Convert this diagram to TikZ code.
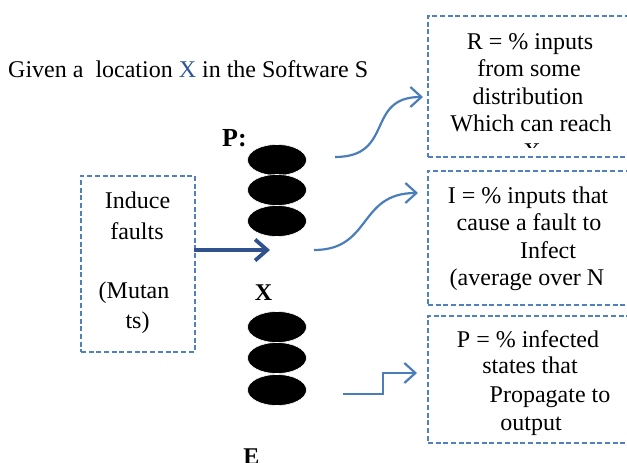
\documentclass[tikz,border=0pt]{standalone}
\usepackage{fontspec}
\setmainfont{Liberation Serif}
\usetikzlibrary{arrows.meta,shapes.geometric}
\definecolor{boxblue}{RGB}{79,129,189}
\definecolor{arrowblue}{RGB}{74,126,187}
\definecolor{deepblue}{RGB}{47,82,143}
\definecolor{titleblue}{RGB}{46,84,150}
\begin{document}
\begin{tikzpicture}[x=1pt,y=-1pt,
  dashbox/.style={draw=boxblue, line width=1.6pt, dash pattern=on 5pt off 2.7pt, inner sep=0pt, anchor=north west},
  txt/.style={anchor=base, inner sep=0pt, font=\fontsize{24}{27.6}\selectfont},
  lbl/.style={anchor=base, inner sep=0pt, font=\fontsize{24}{27.6}\selectfont\bfseries},
  blob/.style={ellipse, fill=black, draw=white, line width=0.6pt, minimum width=59pt, minimum height=31pt, inner sep=0pt},
  flow/.style={draw=arrowblue, line width=2.2pt, -{Straight Barb[length=11pt,width=20pt]}},
  push/.style={draw=deepblue, line width=3.8pt, -{Straight Barb[length=12pt,width=21pt]}}]
\useasboundingbox (0,0) rectangle (627,463);

% heading
\node[txt, anchor=base west] (title) at (8,77) {Given a \ location \textcolor{titleblue}{X} in the Software S};

% dashed boxes
\node[dashbox, minimum width=223pt, minimum height=141pt] (rbox) at (427,15) {};
\node[dashbox, minimum width=223pt, minimum height=134pt] (ibox) at (427,170) {};
\node[dashbox, minimum width=223pt, minimum height=127pt] (pbox) at (427,315) {};
\node[dashbox, minimum width=114pt, minimum height=176pt] (fbox) at (80,175) {};

% reachability box text (last line runs past the text frame)
\node[txt] (r1) at (530,49) {R = \% inputs};
\node[txt] (r2) at (529,76.5) {from some};
\node[txt] (r3) at (528,104) {distribution};
\node[txt] (r4) at (531,131) {Which can reach};
\begin{scope}
  \clip (427,15) rectangle (650,147);
  \node[txt] (r5) at (532,159) {X};
\end{scope}

% infection box text
\node[txt] (i1) at (528,203) {I = \% inputs that};
\node[txt] (i2) at (529,230.5) {cause a fault to};
\node[txt] (i3) at (548,258) {Infect};
\node[txt] (i4) at (527,285) {(average over N};

% propagation box text
\node[txt] (p1) at (528,347) {P = \% infected};
\node[txt] (p2) at (530,373.5) {states that};
\node[txt] (p3) at (550,402) {Propagate to};
\node[txt] (p4) at (531,430) {output};

% fault box text
\node[txt] (f1) at (137.5,208) {Induce};
\node[txt] (f2) at (137,239) {faults};
\node[txt] (f3) at (134,298) {(Mutan};
\node[txt] (f4) at (137.5,328) {ts)};

% program states
\node[lbl, anchor=base west, font=\fontsize{26}{30}\selectfont\bfseries] (lp) at (222,146) {P:};
\node[blob] (s1) at (277,160) {};
\node[blob] (s2) at (277,190) {};
\node[blob] (s3) at (277,221) {};
\node[lbl] (lx) at (263.5,300) {X};
\node[blob] (s4) at (277,327) {};
\node[blob] (s5) at (277,358) {};
\node[blob] (s6) at (277,390) {};
\node[lbl] (le) at (251.5,464) {E};

% connectors
\coordinate (a0) at (194,250);
\coordinate (a1) at (270,250);
\draw[push] (a0) -- (a1);

\coordinate (c0) at (335,157);
\coordinate (c1) at (423,97);
\draw[flow] (c0) .. controls (395,157) and (365,97) .. (c1);

\coordinate (d0) at (314,250);
\coordinate (d1) at (418,193);
\draw[flow] (d0) .. controls (372,250) and (358,193) .. (d1);

\coordinate (e0) at (343,394);
\coordinate (e1) at (383,394);
\coordinate (e2) at (383,373);
\coordinate (e3) at (417,373);
\draw[flow] (e0) -- (e1) -- (e2) -- (e3);
\end{tikzpicture}
\end{document}
